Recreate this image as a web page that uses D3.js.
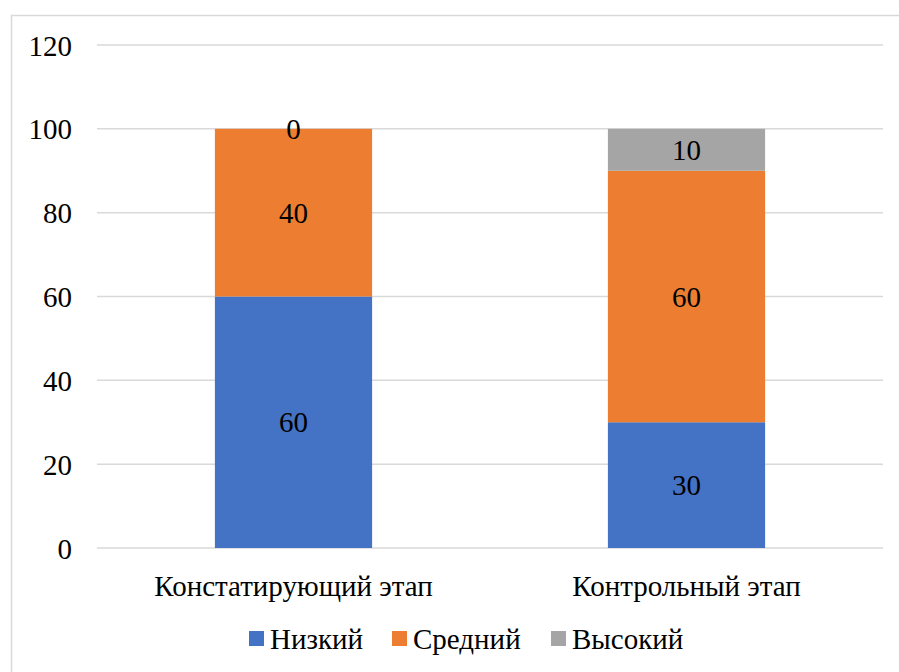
<!DOCTYPE html>
<html><head><meta charset="utf-8">
<script src="https://cdn.jsdelivr.net/npm/d3@7"></script>
<style>body{margin:0;background:#fff}svg{display:block}svg text{font-family:"Liberation Serif",serif !important}</style>
</head><body><svg id="c" width="899" height="672" font-family="Liberation Serif"></svg>
<script>
const categories = ["Констатирующий этап", "Контрольный этап"];
const seriesNames = ["Низкий", "Средний", "Высокий"];
const low = [60, 30];
const mid = [40, 60];
const high = [0, 10];
const yTicks = [0, 20, 40, 60, 80, 100, 120];
const colors = ["#4472C4", "#ED7D31", "#A5A5A5"];
const FONT = "Liberation Serif";
const FS = 29;

function serif(sel) {
  sel.attr("font-family", FONT).attr("font-size", FS).attr("fill", "#000")
    .style("font-family", "'Liberation Serif', serif", "important");
}

const svg = d3.select("#c");
svg.append("rect").attr("x", 11.5).attr("y", 15.5).attr("width", 900).attr("height", 700)
  .attr("fill", "#fff").attr("stroke", "#d9d9d9").attr("stroke-width", 1.5);

const pLeft = 97, pRight = 883, pTop = 45, pBottom = 548;
const x = d3.scaleBand().domain(categories).range([pLeft, pRight]).paddingInner(0.6).paddingOuter(0.3);
const y = d3.scaleLinear().domain([0, 120]).range([pBottom, pTop]);

const grid = svg.append("g");
grid.selectAll("line").data(yTicks).join("line")
  .attr("x1", pLeft).attr("x2", pRight)
  .attr("y1", d => y(d)).attr("y2", d => y(d))
  .attr("stroke", "#d9d9d9").attr("stroke-width", 1.5);

const yAxis = svg.append("g").attr("transform", `translate(${pLeft - 25},0)`)
  .call(d3.axisLeft(y).tickValues(yTicks).tickSize(0).tickPadding(0));
yAxis.attr("font-family", FONT).attr("font-size", FS);
yAxis.select(".domain").remove();
yAxis.selectAll("text").call(serif).attr("dy", "0.35em");

const table = categories.map((c, i) => ({cat: c, "Низкий": low[i], "Средний": mid[i], "Высокий": high[i]}));
const stacked = d3.stack().keys(seriesNames)(table);

const layers = svg.append("g").selectAll("g").data(stacked).join("g").attr("fill", (d, i) => colors[i]);
layers.selectAll("rect").data(d => d).join("rect")
  .attr("x", d => x(d.data.cat)).attr("width", x.bandwidth())
  .attr("y", d => y(d[1])).attr("height", d => y(d[0]) - y(d[1]));

const labels = svg.append("g").attr("font-family", FONT).attr("font-size", FS);
stacked.forEach(layer => {
  layer.forEach(d => {
    labels.append("text")
      .attr("x", x(d.data.cat) + x.bandwidth() / 2)
      .attr("y", (y(d[0]) + y(d[1])) / 2)
      .attr("dy", "0.35em").attr("text-anchor", "middle")
      .call(serif)
      .text(d[1] - d[0]);
  });
});

const xAxis = svg.append("g").attr("transform", `translate(0,${pBottom + 38})`)
  .call(d3.axisBottom(x).tickSize(0).tickPadding(0));
xAxis.attr("font-family", FONT).attr("font-size", FS);
xAxis.select(".domain").remove();
xAxis.selectAll("text").call(serif).attr("dy", "0.35em");

const legendX = [249, 392, 551];
const legend = svg.append("g").attr("font-family", FONT).attr("font-size", FS);
seriesNames.forEach((n, i) => {
  legend.append("rect").attr("x", legendX[i]).attr("y", 631).attr("width", 15).attr("height", 15).attr("fill", colors[i]);
  legend.append("text").attr("x", legendX[i] + 21).attr("y", 639).attr("dy", "0.35em")
    .call(serif).text(n);
});
</script></body></html>
